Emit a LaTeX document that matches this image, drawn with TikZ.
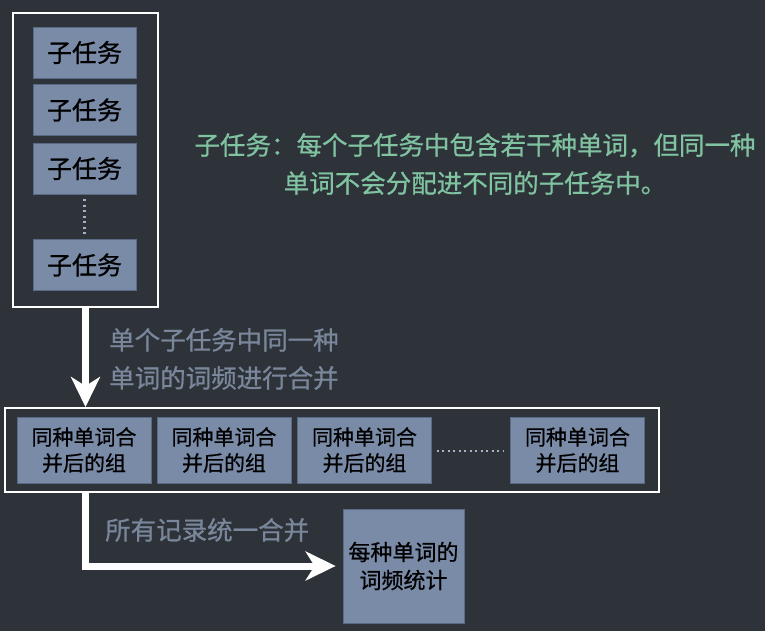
\documentclass[tikz,border=0pt]{standalone}
\usepackage{fontspec}
\newfontfamily\cjk[FakeBold=0.7]{Noto Sans CJK SC}
\usetikzlibrary{arrows.meta}
\definecolor{bg}{HTML}{2E333A}
\definecolor{boxfill}{HTML}{7A8BA7}
\definecolor{boxedge}{HTML}{5A6A84}
\definecolor{greentext}{HTML}{80C3A1}
\definecolor{graytext}{HTML}{7A879B}
\definecolor{dotcol}{HTML}{A4B2C8}
\begin{document}
\begin{tikzpicture}[x=1pt,y=-1pt,
  blk/.style={draw=boxedge, line width=0.8pt, fill=boxfill, inner sep=0pt, text=black, align=center},
  taskbox/.style={blk, minimum width=103pt, minimum height=51pt, font=\cjk\fontsize{25}{30}\selectfont},
  groupbox/.style={blk, minimum width=134pt, minimum height=66pt, font=\cjk\fontsize{21}{26}\selectfont},
  frame/.style={draw=white, line width=2pt, inner sep=0pt},
  bigarrow/.style={draw=white, line width=7pt, -{Stealth[length=30pt,width=29pt,inset=9pt]}},
  dotline/.style={draw=dotcol, line width=2.2pt, dash pattern=on 2pt off 3.5pt},
  note/.style={font=\cjk\fontsize{25.5}{38}\selectfont, inner sep=0pt}
]
\fill[bg] (0,0) rectangle (765,631);
\useasboundingbox (0,0) rectangle (765,631);

% top frame with sub-tasks
\node[frame, minimum width=145pt, minimum height=294pt] (top) at (85.5,160) {};
\node[taskbox] (t1) at (84.5,52.5) {子任务};
\node[taskbox] (t2) at (84.5,110) {子任务};
\node[taskbox] (t3) at (84.5,168.5) {子任务};
\node[taskbox] (t4) at (84.5,265) {子任务};
\draw[dotline] ([yshift=-5pt]t3.south) -- ([yshift=3pt]t4.north);

% green note
\node[note, text=greentext, align=center] (note) at (475,164) {子任务：每个子任务中包含若干种单词，但同一种\\单词不会分配进不同的子任务中。};

% middle frame with groups
\node[frame, minimum width=654pt, minimum height=84pt] (mid) at (332,450) {};
\node[groupbox] (g1) at (84,450) {同种单词合\\并后的组};
\node[groupbox] (g2) at (224,450) {同种单词合\\并后的组};
\node[groupbox] (g3) at (364.5,450) {同种单词合\\并后的组};
\node[groupbox] (g4) at (577.5,450) {同种单词合\\并后的组};
\draw[dotline] ([xshift=5pt,yshift=-1pt]g3.east) -- ([xshift=-6pt,yshift=-1pt]g4.west);

% arrow 1 and label
\draw[bigarrow] (top.south) -- (top.south |- mid.north);
\node[note, text=graytext, align=left, anchor=west] (lab1) at (109,359) {单个子任务中同一种\\单词的词频进行合并};

% final box
\node[blk, minimum width=121pt, minimum height=114pt, font=\cjk\fontsize{22}{28}\selectfont] (final) at (403.5,566) {每种单词的\\词频统计};

% arrow 2 and label
\draw[bigarrow, shorten >=7pt] (mid.south -| top.south) |- (final.west);
\node[note, text=graytext, anchor=west] (lab2) at (105,530) {所有记录统一合并};
\end{tikzpicture}
\end{document}
